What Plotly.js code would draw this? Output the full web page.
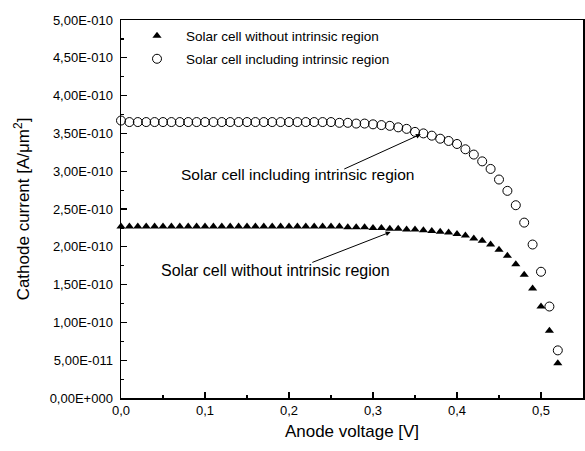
<!DOCTYPE html>
<html>
<head>
<meta charset="utf-8">
<script src="https://cdn.plot.ly/plotly-3.0.1.min.js"></script>
<style>html,body{margin:0;padding:0;background:#fff;}#chart{width:585px;height:451px;}</style>
</head>
<body>
<div id="chart"></div>
<script>
var voltage = [0.00,0.01,0.02,0.03,0.04,0.05,0.06,0.07,0.08,0.09,
  0.10,0.11,0.12,0.13,0.14,0.15,0.16,0.17,0.18,0.19,
  0.20,0.21,0.22,0.23,0.24,0.25,0.26,0.27,0.28,0.29,
  0.30,0.31,0.32,0.33,0.34,0.35,0.36,0.37,0.38,0.39,
  0.40,0.41,0.42,0.43,0.44,0.45,0.46,0.47,0.48,0.49,
  0.50,0.51,0.52];

var currentWithout = [2.27e-10,2.27e-10,2.27e-10,2.27e-10,2.27e-10,2.27e-10,2.27e-10,2.27e-10,2.27e-10,2.27e-10,
  2.27e-10,2.27e-10,2.27e-10,2.27e-10,2.27e-10,2.27e-10,2.27e-10,2.27e-10,2.27e-10,2.27e-10,
  2.27e-10,2.27e-10,2.27e-10,2.27e-10,2.27e-10,2.27e-10,2.27e-10,2.26e-10,2.26e-10,2.26e-10,
  2.25e-10,2.25e-10,2.24e-10,2.24e-10,2.23e-10,2.23e-10,2.22e-10,2.21e-10,2.20e-10,2.19e-10,
  2.17e-10,2.15e-10,2.11e-10,2.08e-10,2.03e-10,1.96e-10,1.88e-10,1.77e-10,1.63e-10,1.45e-10,
  1.21e-10,0.89e-10,0.46e-10];

var currentIncluding = [3.67e-10,3.65e-10,3.65e-10,3.65e-10,3.65e-10,3.65e-10,3.65e-10,3.65e-10,3.65e-10,3.65e-10,
  3.65e-10,3.65e-10,3.65e-10,3.65e-10,3.65e-10,3.65e-10,3.65e-10,3.65e-10,3.65e-10,3.65e-10,
  3.65e-10,3.65e-10,3.65e-10,3.65e-10,3.65e-10,3.65e-10,3.64e-10,3.64e-10,3.63e-10,3.63e-10,
  3.62e-10,3.61e-10,3.60e-10,3.58e-10,3.56e-10,3.52e-10,3.50e-10,3.47e-10,3.43e-10,3.40e-10,
  3.36e-10,3.29e-10,3.22e-10,3.13e-10,3.03e-10,2.89e-10,2.74e-10,2.55e-10,2.32e-10,2.03e-10,
  1.67e-10,1.21e-10,0.63e-10];

var seriesNames = ['Solar cell without intrinsic region', 'Solar cell including intrinsic region'];

var xTickVals = [0, 0.1, 0.2, 0.3, 0.4, 0.5];
var xTickText = ['0,0', '0,1', '0,2', '0,3', '0,4', '0,5'];
var yTickVals = [0, 0.5e-10, 1.0e-10, 1.5e-10, 2.0e-10, 2.5e-10, 3.0e-10, 3.5e-10, 4.0e-10, 4.5e-10, 5.0e-10];
var yTickText = ['0,00E+000', '5,00E-011', '1,00E-010', '1,50E-010', '2,00E-010', '2,50E-010',
  '3,00E-010', '3,50E-010', '4,00E-010', '4,50E-010', '5,00E-010'];

var FONT = 'Liberation Sans, Arial, sans-serif';

var traces = [
  {
    x: voltage, y: currentWithout, name: seriesNames[0], type: 'scatter', mode: 'markers',
    marker: {symbol: 'triangle-up', size: 8, color: '#000'},
    legend: 'legend', cliponaxis: false
  },
  {
    x: voltage, y: currentIncluding, name: seriesNames[1], type: 'scatter', mode: 'markers',
    marker: {symbol: 'circle-open', size: 9, color: '#000', line: {width: 1, color: '#000'}},
    legend: 'legend2', cliponaxis: false
  }
];

var axisCommon = {
  showgrid: false, zeroline: false, showline: true, linecolor: '#000', linewidth: 1.5,
  mirror: true, ticks: 'inside', ticklen: 6, tickwidth: 1.2, tickcolor: '#000',
  tickfont: {family: FONT, size: 13, color: '#000'}
};

var layout = {
  width: 585, height: 451,
  margin: {l: 121, r: 2, t: 20, b: 53},
  paper_bgcolor: '#fff', plot_bgcolor: '#fff',
  font: {family: FONT, color: '#000'},
  xaxis: Object.assign({}, axisCommon, {
    range: [0, 0.55], tickmode: 'array', tickvals: xTickVals, ticktext: xTickText,
    minor: {dtick: 0.05, ticks: 'inside', ticklen: 3, tickwidth: 1.2, tickcolor: '#000'},
    title: {text: 'Anode voltage [V]', font: {family: FONT, size: 17, color: '#000'}, standoff: 8}
  }),
  yaxis: Object.assign({}, axisCommon, {
    range: [0, 5e-10], tickmode: 'array', tickvals: yTickVals, ticktext: yTickText,
    minor: {dtick: 0.25e-10, tick0: 0, ticks: 'inside', ticklen: 3, tickwidth: 1.2, tickcolor: '#000'},
    ticklabelstandoff: 4,
    title: {text: 'Cathode current [A/\u03bcm<sup>2</sup>]', font: {family: FONT, size: 17, color: '#000'}, standoff: 15}
  }),
  legend: {
    bgcolor: 'rgba(0,0,0,0)', font: {family: FONT, size: 13.5, color: '#000'}, itemwidth: 48
  },
  legend2: {
    bgcolor: 'rgba(0,0,0,0)', font: {family: FONT, size: 13.5, color: '#000'}, itemwidth: 48
  },
  showlegend: true,
  annotations: [
    {xref: 'x', yref: 'y', x: 0.357, y: 3.49e-10, axref: 'x', ayref: 'y', ax: 0.264, ay: 3.02e-10,
     text: '', showarrow: true, arrowhead: 2, arrowsize: 1, arrowwidth: 1, arrowcolor: '#000'},
    {xref: 'x', yref: 'y', x: 0.321, y: 2.196e-10, axref: 'x', ayref: 'y', ax: 0.226, ay: 1.786e-10,
     text: '', showarrow: true, arrowhead: 2, arrowsize: 1, arrowwidth: 1, arrowcolor: '#000'},
    {xref: 'x', yref: 'y', x: 0.210, y: 2.95e-10, text: 'Solar cell including intrinsic region',
     showarrow: false, font: {family: FONT, size: 15.5, color: '#000'}},
    {xref: 'x', yref: 'y', x: 0.1845, y: 1.68e-10, text: 'Solar cell without intrinsic region',
     showarrow: false, font: {family: FONT, size: 16, color: '#000'}}
  ]
};

// legend positions in paper coords
var plotW = 585 - 121 - 2, plotH = 451 - 20 - 53;
layout.legend.x = (128 - 121) / plotW;
layout.legend.y = 1 - (20.5 - 20) / plotH;
layout.legend.xanchor = 'left'; layout.legend.yanchor = 'top';
layout.legend2.x = (128 - 121) / plotW;
layout.legend2.y = 1 - (43.5 - 20) / plotH;
layout.legend2.xanchor = 'left'; layout.legend2.yanchor = 'top';

Plotly.newPlot('chart', traces, layout, {displayModeBar: false, staticPlot: true});
</script>
</body>
</html>
